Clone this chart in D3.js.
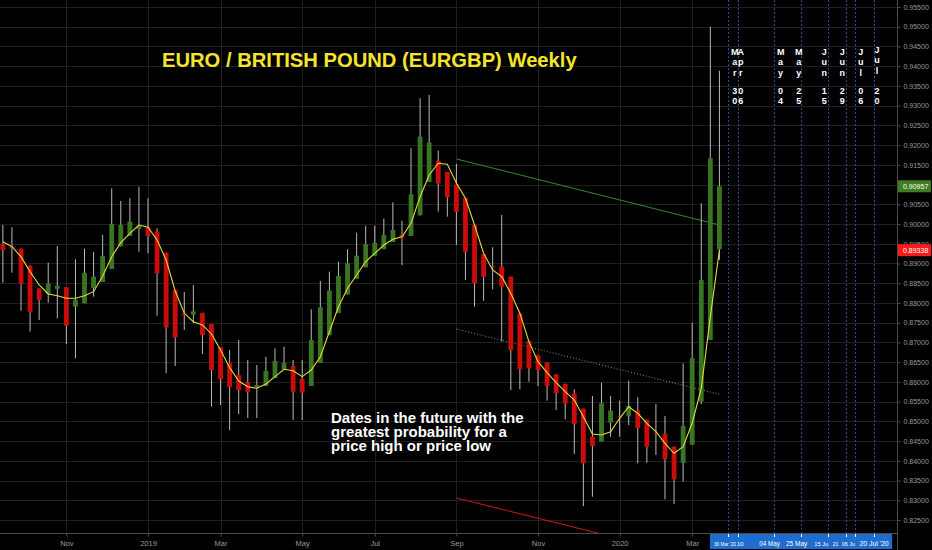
<!DOCTYPE html>
<html><head><meta charset="utf-8">
<script src="https://cdn.jsdelivr.net/npm/d3@7"></script>
<style>html,body{margin:0;padding:0;background:#000;}svg{display:block}</style>
</head><body>
<svg id="chart" width="932" height="550"></svg>
<script>
// ---------- DATA ----------
const weeks = [
"2018-09-17","2018-09-24","2018-10-01","2018-10-08","2018-10-15","2018-10-22","2018-10-29","2018-11-05",
"2018-11-12","2018-11-19","2018-11-26","2018-12-03","2018-12-10","2018-12-17","2018-12-24","2018-12-31",
"2019-01-07","2019-01-14","2019-01-21","2019-01-28","2019-02-04","2019-02-11","2019-02-18","2019-02-25",
"2019-03-04","2019-03-11","2019-03-18","2019-03-25","2019-04-01","2019-04-08","2019-04-15","2019-04-22",
"2019-04-29","2019-05-06","2019-05-13","2019-05-20","2019-05-27","2019-06-03","2019-06-10","2019-06-17",
"2019-06-24","2019-07-01","2019-07-08","2019-07-15","2019-07-22","2019-07-29","2019-08-05","2019-08-12",
"2019-08-19","2019-08-26","2019-09-02","2019-09-09","2019-09-16","2019-09-23","2019-09-30","2019-10-07",
"2019-10-14","2019-10-21","2019-10-28","2019-11-04","2019-11-11","2019-11-18","2019-11-25","2019-12-02",
"2019-12-09","2019-12-16","2019-12-23","2019-12-30","2020-01-06","2020-01-13","2020-01-20","2020-01-27",
"2020-02-03","2020-02-10","2020-02-17","2020-02-24","2020-03-02","2020-03-09","2020-03-16","2020-03-23"];

const openP = [
0.89487,0.89418,0.89375,0.88937,0.88367,0.88227,0.88359,0.88397,0.87910,0.87992,0.88379,0.88531,0.88863,0.89439,0.89700,0.89877,
0.89920,0.89811,0.89276,0.88329,0.87728,0.87705,0.87751,0.87467,0.86884,0.86474,0.86172,0.85985,0.85868,0.85896,0.86099,0.86314,
0.86400,0.86076,0.85898,0.86479,0.87183,0.87746,0.88215,0.88610,0.88904,0.89195,0.89363,0.89545,0.89735,0.89697,0.90224,0.91066,
0.91598,0.91319,0.91002,0.90660,0.89976,0.89236,0.88937,0.88927,0.88666,0.87736,0.87036,0.86681,0.86491,0.86190,0.85952,0.85701,
0.85321,0.84611,0.84492,0.84971,0.85130,0.85123,0.85275,0.85047,0.84697,0.84685,0.84358,0.83945,0.84408,0.85503,0.87062,0.89363];
const highP = [
0.89976,0.89918,0.89375,0.88962,0.88367,0.89021,0.89444,0.88397,0.89107,0.89375,0.89292,0.89722,0.90906,0.90584,0.90653,0.90946,
0.90653,0.89892,0.89276,0.88329,0.88278,0.88455,0.87751,0.87467,0.86884,0.86808,0.87062,0.86555,0.86428,0.86638,0.86851,0.86892,
0.86555,0.86555,0.87840,0.88557,0.88792,0.89046,0.89360,0.89781,0.89958,0.89958,0.90136,0.90551,0.90085,0.91920,0.93187,0.93270,
0.91859,0.91319,0.91522,0.90660,0.89976,0.89236,0.89411,0.90229,0.88666,0.87736,0.87036,0.86681,0.86491,0.86190,0.85952,0.85812,
0.85321,0.85642,0.85979,0.85642,0.85523,0.86030,0.85609,0.85047,0.85440,0.85136,0.84358,0.86471,0.87500,0.90526,0.95000,0.93886];
const lowP = [
0.88514,0.88767,0.87804,0.87272,0.87568,0.88007,0.87611,0.86960,0.86598,0.87992,0.88159,0.88531,0.88863,0.89426,0.89697,0.89299,
0.89259,0.87677,0.86218,0.86403,0.87315,0.87485,0.86707,0.85371,0.85414,0.84781,0.85186,0.85085,0.85085,0.85896,0.86099,0.86301,
0.85034,0.85034,0.85896,0.86479,0.87183,0.87746,0.88215,0.88610,0.88904,0.89195,0.89363,0.89545,0.88955,0.89697,0.90212,0.91066,
0.90313,0.90186,0.89469,0.88582,0.87905,0.88057,0.88346,0.87019,0.85794,0.85812,0.86005,0.85896,0.85523,0.85288,0.85052,0.84173,
0.82855,0.83090,0.84484,0.84611,0.84611,0.84907,0.83937,0.83952,0.84147,0.83025,0.82906,0.83471,0.84408,0.85440,0.87062,0.89089];
const closeP = [
0.89342,0.89380,0.88481,0.87779,0.88075,0.88488,0.88438,0.87424,0.88083,0.88767,0.88666,0.89190,0.90001,0.89976,0.90060,0.89951,
0.89697,0.88752,0.87383,0.87130,0.87682,0.87789,0.87188,0.86301,0.86066,0.85871,0.85794,0.85751,0.85921,0.86276,0.86529,0.86486,
0.85751,0.85726,0.87062,0.87890,0.88311,0.88683,0.89005,0.89198,0.89487,0.89527,0.89722,0.89849,0.89659,0.90754,0.92214,0.92072,
0.91033,0.90678,0.90313,0.89299,0.88498,0.88666,0.88917,0.88412,0.86808,0.86319,0.86344,0.86301,0.85896,0.85711,0.85457,0.84933,
0.83937,0.84375,0.85457,0.85270,0.85115,0.85389,0.84824,0.84358,0.84672,0.84038,0.83531,0.84882,0.86598,0.88582,0.91666,0.90957];
const maP = [
0.89553,0.89426,0.89173,0.88792,0.88455,0.88227,0.88184,0.88118,0.88118,0.88184,0.88286,0.88683,0.89173,0.89527,0.89766,0.89976,
0.89918,0.89596,0.89089,0.88303,0.87738,0.87525,0.87442,0.87214,0.86808,0.86365,0.86023,0.85878,0.85838,0.85947,0.86132,0.86319,
0.86284,0.86132,0.86301,0.86638,0.87272,0.87905,0.88372,0.88709,0.89046,0.89259,0.89469,0.89614,0.89679,0.90019,0.90693,0.91243,
0.91540,0.91514,0.91040,0.90653,0.89976,0.89259,0.88836,0.88666,0.88245,0.87738,0.87019,0.86512,0.86233,0.85979,0.85751,0.85541,
0.85118,0.84679,0.84654,0.84738,0.85077,0.85371,0.85204,0.84951,0.84738,0.84444,0.84190,0.84358,0.84958,0.85838,0.87652,0.89338];

const priceTicks = [0.825,0.83,0.835,0.84,0.845,0.85,0.855,0.86,0.865,0.87,0.875,0.88,0.885,0.89,0.895,0.90,0.905,0.91,0.915,0.92,0.925,0.93,0.935,0.94,0.945,0.95,0.955];
const timeTickDates = ["2018-11-05","2019-01-07","2019-03-04","2019-05-06","2019-07-01","2019-09-02","2019-11-04","2020-01-06","2020-03-02"];
const timeTickLabels = ["Nov","2019","Mar","May","Jul","Sep","Nov","2020","Mar"];

const futureDates = ["2020-03-30","2020-04-06","2020-05-04","2020-05-25","2020-06-15","2020-06-29","2020-07-06","2020-07-20"];
const futureLabels = ["Mar 30","Apr 06","May 04","May 25","Jun 15","Jun 29","Jul 06","Jul 20"];
const futureAxisLabels = ["30 Mar '20","10","04 May","25 May","15 Ju","21","06 Ju","20 Jul '20"];

const greenLineDates = ["2019-09-02","2020-03-23"], greenLinePrices = [0.91649,0.89976];
const dottedLineDates = ["2019-09-02","2020-03-23"], dottedLinePrices = [0.87340,0.85686];
const redLineDates = ["2019-09-02","2019-12-23"], redLinePrices = [0.83058,0.82145];
const refLevel = 0.89338;

const titleText = "EURO / BRITISH POUND (EURGBP) Weekly";
const noteLines = ["Dates in the future with the","greatest probability for a","price high or price low"];

// ---------- LAYOUT / STYLE ----------
const W = 932, H = 550, plotR = 897, plotB = 533;
const FONT = "'Liberation Sans', Arial, sans-serif";
const col = {bg:"#000", grid:"#1f1f1f", axis:"#4a4a4a", text:"#9a9a9a", up:"#3a7524", down:"#cc0b0b",
  wick:"#b9b9b9", ma:"#dcdc3a", title:"#f4e52c", blue:"#234f8e", blueBox:"#1f6dce"};
const labelDx = [6.2,3.1,6.8,-2.4,-4.1,-4.2,5.2,3.4];
const labelDy = [0,0,0,0,0,0,0,-2];
// measured centre offsets and visible widths of the (overlapping) time-axis date tags
const axisLabelDx = [-3.5,2.8,-4.2,-4.4,-6.9,-10.9,-7.1,0.4];
const axisLabelW = [22,6.7,20.7,21.3,14,5.7,13.3,29.3];

const parse = d3.utcParse("%Y-%m-%d");
const svg = d3.select("#chart");
svg.append("rect").attr("width",W).attr("height",H).attr("fill",col.bg);

const x = d3.scaleUtc().domain([parse("2019-01-07"), parse("2020-07-20")]).range([148, 873.6]);
const y = d3.scaleLinear().domain([0.825, 0.955]).range([520, 7]);

const candles = weeks.map((w,i)=>({d:parse(w), o:openP[i], h:highP[i], l:lowP[i], c:closeP[i], m:maP[i]}));

svg.append("defs").append("clipPath").attr("id","plot").append("rect")
  .attr("x",0).attr("y",0).attr("width",plotR).attr("height",plotB);

// grid
const grid = svg.append("g").attr("shape-rendering","crispEdges");
grid.selectAll("line.h").data(priceTicks).join("line")
  .attr("x1",0).attr("x2",plotR).attr("y1",d=>Math.round(y(d))+0.5).attr("y2",d=>Math.round(y(d))+0.5)
  .attr("stroke",col.grid);
grid.selectAll("line.v").data(timeTickDates).join("line")
  .attr("y1",0).attr("y2",plotB).attr("x1",d=>Math.round(x(parse(d)))+0.5).attr("x2",d=>Math.round(x(parse(d)))+0.5)
  .attr("stroke",col.grid);

const plot = svg.append("g").attr("clip-path","url(#plot)");

// future vertical lines
plot.selectAll("line.fut").data(futureDates).join("line")
  .attr("x1",d=>Math.round(x(parse(d)))+0.5).attr("x2",d=>Math.round(x(parse(d)))+0.5)
  .attr("y1",0).attr("y2",plotB).attr("stroke",col.blue).attr("stroke-width",1).attr("stroke-dasharray","2,2");

// trend lines
function tline(dates, prices, stroke, dash){
  plot.append("line")
    .attr("x1",x(parse(dates[0]))).attr("y1",y(prices[0]))
    .attr("x2",x(parse(dates[1]))).attr("y2",y(prices[1]))
    .attr("stroke",stroke).attr("stroke-width",1).attr("stroke-dasharray",dash||null);
}
tline(greenLineDates, greenLinePrices, "#2f8a2f");
tline(dottedLineDates, dottedLinePrices, "#8a8a8a", "1,2");
tline(redLineDates, redLinePrices, "#d01818");

// candles
const bw = 4.8;
const cg = plot.append("g");
cg.selectAll("line.wick").data(candles).join("line")
  .attr("x1",d=>x(d.d)).attr("x2",d=>x(d.d)).attr("y1",d=>y(d.h)).attr("y2",d=>y(d.l))
  .attr("stroke",col.wick).attr("stroke-width",1);
cg.selectAll("rect.body").data(candles).join("rect")
  .attr("x",d=>x(d.d)-bw/2).attr("width",bw)
  .attr("y",d=>y(Math.max(d.o,d.c)))
  .attr("height",d=>Math.max(1, Math.abs(y(d.o)-y(d.c))))
  .attr("fill",d=>d.c>=d.o?col.up:col.down);

// moving average
plot.append("path").datum(candles)
  .attr("d", d3.line().x(d=>x(d.d)).y(d=>y(d.m)))
  .attr("fill","none").attr("stroke",col.ma).attr("stroke-width",1.1);

// vertical date labels
futureLabels.forEach((lab,i)=>{
  const cx = x(parse(futureDates[i])) + labelDx[i];
  const parts = lab.split(" ");
  const t = svg.append("text").attr("fill","#fff").attr("font-family",FONT)
    .attr("font-weight","bold").attr("font-size","9px").attr("text-anchor","middle");
  parts[0].split("").forEach((ch,k)=>{
    t.append("tspan").attr("x",cx).attr("y",55 + k*10.3 + labelDy[i]).text(ch);
  });
  parts[1].split("").forEach((ch,k)=>{
    t.append("tspan").attr("x",cx).attr("y",93.5 + k*10).text(ch);
  });
});

// right axis
svg.append("line").attr("x1",plotR+0.5).attr("x2",plotR+0.5).attr("y1",0).attr("y2",H)
  .attr("stroke",col.axis);
const ra = svg.append("g").attr("transform",`translate(${plotR+0.5},0)`)
  .call(d3.axisRight(y).tickValues(priceTicks).tickFormat(d3.format(".5f")).tickSize(3).tickPadding(3));
ra.select(".domain").remove();
ra.selectAll("line").attr("stroke",col.axis);
ra.selectAll("text").attr("fill",col.text).attr("font-size","7px").attr("font-family",FONT);

// bottom axis
svg.append("line").attr("x1",0).attr("x2",plotR).attr("y1",plotB+0.5).attr("y2",plotB+0.5).attr("stroke",col.axis);
const ba = svg.append("g").attr("transform",`translate(0,${plotB+0.5})`)
  .call(d3.axisBottom(x).tickValues(timeTickDates.map(parse)).tickFormat((d,i)=>timeTickLabels[i]).tickSize(3).tickPadding(4));
ba.select(".domain").remove();
ba.selectAll("line").attr("stroke",col.axis);
ba.selectAll("text").attr("fill",col.text).attr("font-size","7.5px").attr("font-family",FONT);

// future date box on time axis
const fx0 = x(parse(futureDates[0])), fx1 = x(parse(futureDates[futureDates.length-1]));
svg.append("rect").attr("x",fx0-18.5).attr("y",plotB+1).attr("width",fx1-fx0+37).attr("height",15)
  .attr("fill",col.blueBox);
svg.selectAll("line.ft").data(futureDates).join("line")
  .attr("x1",d=>Math.round(x(parse(d)))+0.5).attr("x2",d=>Math.round(x(parse(d)))+0.5)
  .attr("y1",plotB+1).attr("y2",plotB+4).attr("stroke","#fff");
futureAxisLabels.forEach((lab,i)=>{
  const t = svg.append("text").attr("x",x(parse(futureDates[i]))+axisLabelDx[i]).attr("y",545.5)
    .attr("text-anchor","middle").attr("fill","#fff").attr("font-size","10px")
    .attr("font-family",FONT).text(lab);
  // size each visible fragment so its natural width equals the width seen in the reference
  const natural = t.node().getComputedTextLength();
  const fs = Math.min(6.9, 10 * axisLabelW[i] / natural);
  t.attr("font-size", fs.toFixed(2) + "px");
});

// price labels on right axis
function priceTag(v, fill){
  const yy = y(v);
  svg.append("rect").attr("x",plotR+1).attr("y",yy-6).attr("width",W-plotR-2).attr("height",12).attr("fill",fill);
  svg.append("text").attr("x",plotR+6).attr("y",yy+2.5).attr("fill","#fff").attr("font-size","7px")
    .attr("font-family",FONT).text(d3.format(".5f")(v));
}
priceTag(closeP[closeP.length-1], "#3e7d22");
priceTag(refLevel, "#ff1a1a");

// title
svg.append("text").attr("x",162).attr("y",66.5).attr("fill",col.title).attr("font-family",FONT)
  .attr("font-weight","bold").attr("font-size","20.2px").text(titleText);

// annotation (one text block, three lines)
const note = svg.append("text").attr("fill","#fff").attr("font-family",FONT)
  .attr("font-weight","bold").attr("font-size","15px");
noteLines.forEach((s,i)=>{
  note.append("tspan").attr("x",331).attr("y",422.5 + i*14).text(s);
});
</script>
</body></html>
